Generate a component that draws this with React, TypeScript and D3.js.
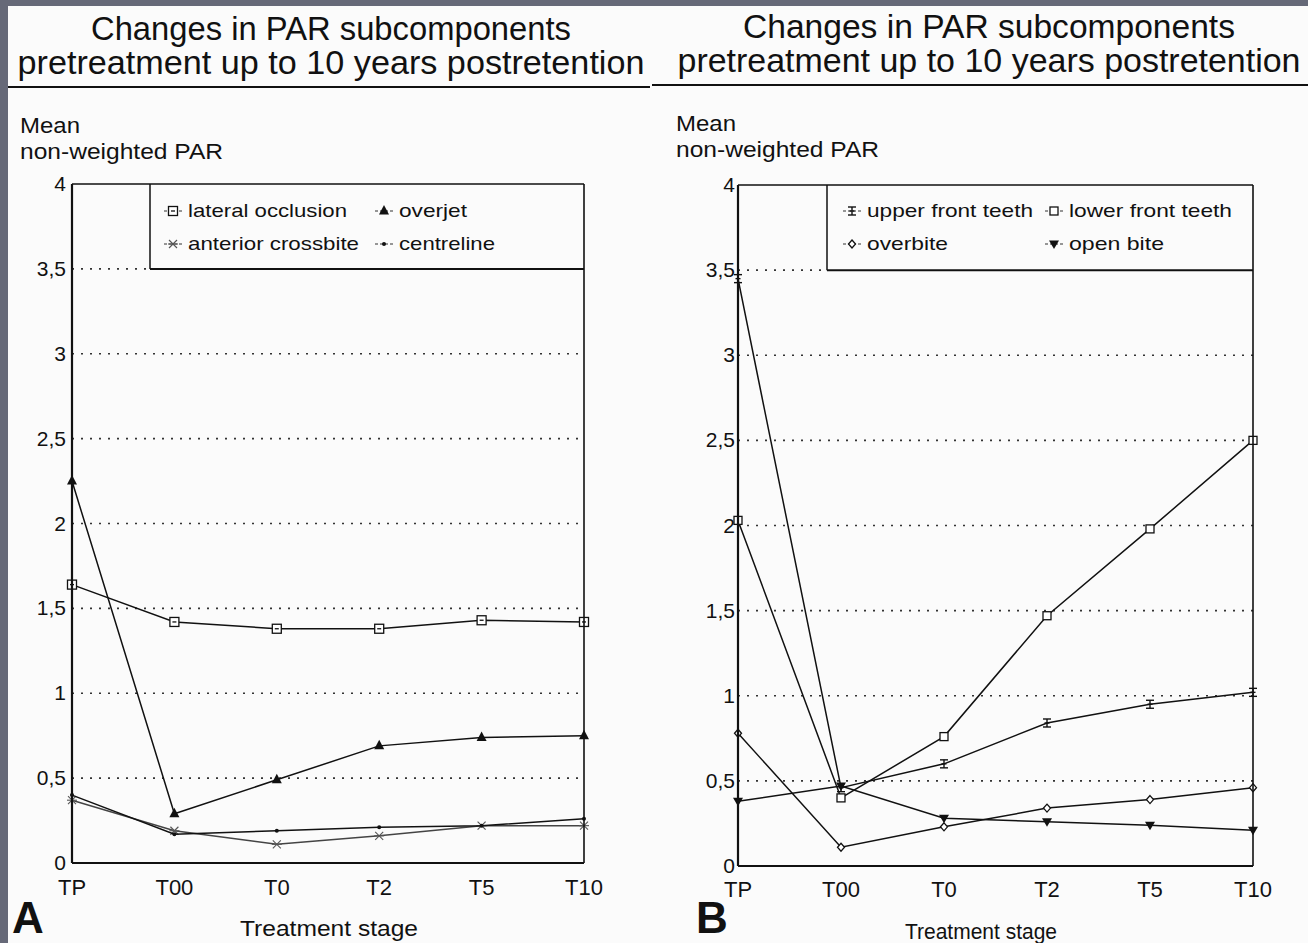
import React from 'react';
import * as d3 from 'd3';

const stages = ['TP', 'T00', 'T0', 'T2', 'T5', 'T10'];
const yTickValues = [0, 0.5, 1, 1.5, 2, 2.5, 3, 3.5, 4];
const yTickLabels = ['0', '0,5', '1', '1,5', '2', '2,5', '3', '3,5', '4'];
const gridValues = [0.5, 1, 1.5, 2, 2.5, 3, 3.5];

// Panel A
const lateralOcclusion = [1.64, 1.42, 1.38, 1.38, 1.43, 1.42];
const overjet = [2.25, 0.29, 0.49, 0.69, 0.74, 0.75];
const anteriorCrossbite = [0.37, 0.19, 0.11, 0.16, 0.22, 0.22];
const centreline = [0.40, 0.17, 0.19, 0.21, 0.22, 0.26];

// Panel B
const upperFrontTeeth = [3.45, 0.46, 0.6, 0.84, 0.95, 1.02];
const lowerFrontTeeth = [2.03, 0.40, 0.76, 1.47, 1.98, 2.5];
const overbite = [0.78, 0.11, 0.23, 0.34, 0.39, 0.46];
const openBite = [0.38, 0.47, 0.28, 0.26, 0.24, 0.21];

const titleLine1 = 'Changes in PAR subcomponents';
const titleLine2 = 'pretreatment up to 10 years postretention';
const yTitle1 = 'Mean';
const yTitle2 = 'non-weighted PAR';
const xTitle = 'Treatment stage';

type Sym = 'squareDot' | 'triUp' | 'cross' | 'dot' | 'ibeam' | 'square' | 'diamond' | 'triDown';

function Marker({ x, y, sym }: { x: number; y: number; sym: Sym }) {
  const k = '#111';
  switch (sym) {
    case 'squareDot':
      return (
        <g>
          <rect x={x - 4.5} y={y - 4.5} width={9} height={9} fill="#fff" stroke={k} strokeWidth={1.3} />
          <line x1={x - 2} x2={x + 2} y1={y} y2={y} stroke={k} strokeWidth={1.3} />
        </g>
      );
    case 'triUp':
      return <path d={`M${x},${y - 6}L${x + 5},${y + 3.5}L${x - 5},${y + 3.5}Z`} fill={k} />;
    case 'triDown':
      return <path d={`M${x - 5},${y - 3.5}L${x + 5},${y - 3.5}L${x},${y + 5}Z`} fill={k} />;
    case 'cross':
      return (
        <g stroke="#555" strokeWidth={1.1}>
          <line x1={x - 4} x2={x + 4} y1={y - 4} y2={y + 4} />
          <line x1={x - 4} x2={x + 4} y1={y + 4} y2={y - 4} />
          <line x1={x - 5} x2={x + 5} y1={y} y2={y} />
        </g>
      );
    case 'dot':
      return <circle cx={x} cy={y} r={2} fill={k} />;
    case 'ibeam':
      return (
        <g stroke={k} strokeWidth={1.4}>
          <line x1={x - 4} x2={x + 4} y1={y - 4} y2={y - 4} />
          <line x1={x - 4} x2={x + 4} y1={y + 4} y2={y + 4} />
          <line x1={x - 2.5} x2={x + 2.5} y1={y} y2={y} />
          <line x1={x} x2={x} y1={y - 4} y2={y + 4} />
        </g>
      );
    case 'square':
      return <rect x={x - 4} y={y - 4} width={8} height={8} fill="#fff" stroke={k} strokeWidth={1.3} />;
    case 'diamond':
      return <path d={`M${x},${y - 4}L${x + 3.5},${y}L${x},${y + 4}L${x - 3.5},${y}Z`} fill="#fff" stroke={k} strokeWidth={1.3} />;
  }
  return null;
}

interface Series {
  name: string;
  values: number[];
  sym: Sym;
  width: number;
  color?: string;
}

interface PanelProps {
  left: number;
  right: number;
  top: number;
  bottom: number;
  legendX: number;
  legendRowY: [number, number];
  legendCols: [number, number];
  series: Series[];
  titleX: number;
  titleY: [number, number];
  titleW: [number, number];
  ruleX: [number, number];
  ruleY: number;
  yTitleX: number;
  yTitleY: [number, number];
  tickLabelDX: number;
  xLabelY: number;
  xTitleX: number;
  xTitleY: number;
  xTitleW: number;
  letter: string;
  letterX: number;
}

function Panel(p: PanelProps) {
  const x = d3.scalePoint<string>().domain(stages).range([p.left, p.right]);
  const y = d3.scaleLinear().domain([0, 4]).range([p.bottom, p.top]);
  const line = d3
    .line<number>()
    .x((_, i) => x(stages[i]) as number)
    .y((d) => y(d));
  const legendBottom = y(3.5);
  const font = "'Liberation Sans', Arial, Helvetica, sans-serif";
  return (
    <g fontFamily={font} fill="#111">
      <text x={p.titleX} y={p.titleY[0]} fontSize={33} textAnchor="middle" textLength={p.titleW[0]} lengthAdjust="spacingAndGlyphs">{titleLine1}</text>
      <text x={p.titleX} y={p.titleY[1]} fontSize={33} textAnchor="middle" textLength={p.titleW[1]} lengthAdjust="spacingAndGlyphs">{titleLine2}</text>
      <line x1={p.ruleX[0]} x2={p.ruleX[1]} y1={p.ruleY} y2={p.ruleY} stroke="#111" strokeWidth={2} />
      <text x={p.yTitleX} y={p.yTitleY[0]} fontSize={22} textLength={60} lengthAdjust="spacingAndGlyphs">{yTitle1}</text>
      <text x={p.yTitleX} y={p.yTitleY[1]} fontSize={22} textLength={203} lengthAdjust="spacingAndGlyphs">{yTitle2}</text>

      {gridValues.map((v) => (
        <line
          key={v}
          x1={p.left}
          x2={v === 3.5 ? p.legendX : p.right}
          y1={y(v)}
          y2={y(v)}
          stroke="#333"
          strokeWidth={1.6}
          strokeDasharray="2 7"
        />
      ))}

      {/* legend box */}
      <line x1={p.legendX} x2={p.legendX} y1={p.top} y2={legendBottom} stroke="#111" strokeWidth={1.5} />
      <line x1={p.legendX} x2={p.right} y1={legendBottom} y2={legendBottom} stroke="#111" strokeWidth={2} />
      {p.series.map((s, i) => {
        const col = i % 2;
        const row = Math.floor(i / 2);
        const lx = p.legendCols[col];
        const ly = p.legendRowY[row];
        return (
          <g key={s.name}>
            <line x1={lx - 9} x2={lx + 9} y1={ly} y2={ly} stroke="#333" strokeWidth={1.2} strokeDasharray="3 2" />
            <Marker x={lx} y={ly} sym={s.sym} />
            <text x={lx + 15} y={ly + 6} fontSize={19} textLength={s.width} lengthAdjust="spacingAndGlyphs">{s.name}</text>
          </g>
        );
      })}

      {/* series */}
      {p.series.map((s) => (
        <g key={s.name}>
          <path d={line(s.values) || ''} fill="none" stroke={s.color || '#111'} strokeWidth={1.5} />
          {s.values.map((v, i) => (
            <Marker key={i} x={x(stages[i]) as number} y={y(v)} sym={s.sym} />
          ))}
        </g>
      ))}

      {/* frame */}
      <line x1={p.left} x2={p.right} y1={p.top} y2={p.top} stroke="#111" strokeWidth={1.6} />
      <line x1={p.right} x2={p.right} y1={p.top} y2={p.bottom} stroke="#111" strokeWidth={1.6} />
      <line x1={p.left} x2={p.left} y1={p.top} y2={p.bottom} stroke="#111" strokeWidth={2.2} />
      <line x1={p.left} x2={p.right} y1={p.bottom} y2={p.bottom} stroke="#111" strokeWidth={2.2} />

      {yTickValues.map((v, i) => (
        <text key={v} x={p.left + p.tickLabelDX} y={y(v) + 7} fontSize={21} textAnchor="end">
          {yTickLabels[i]}
        </text>
      ))}
      {stages.map((s) => (
        <text key={s} x={x(s) as number} y={p.xLabelY} fontSize={22} textAnchor="middle">
          {s}
        </text>
      ))}
      <text x={p.xTitleX} y={p.xTitleY} fontSize={22} textAnchor="middle" textLength={p.xTitleW} lengthAdjust="spacingAndGlyphs">{xTitle}</text>
      <text x={p.letterX} y={933} fontSize={44} fontWeight="bold">{p.letter}</text>
    </g>
  );
}

export default function App() {
  const seriesA: Series[] = [
    { name: 'lateral occlusion', values: lateralOcclusion, sym: 'squareDot', width: 159 },
    { name: 'overjet', values: overjet, sym: 'triUp', width: 68 },
    { name: 'anterior crossbite', values: anteriorCrossbite, sym: 'cross', width: 171, color: '#444' },
    { name: 'centreline', values: centreline, sym: 'dot', width: 96 },
  ];
  const seriesB: Series[] = [
    { name: 'upper front teeth', values: upperFrontTeeth, sym: 'ibeam', width: 166 },
    { name: 'lower front teeth', values: lowerFrontTeeth, sym: 'square', width: 163 },
    { name: 'overbite', values: overbite, sym: 'diamond', width: 81 },
    { name: 'open bite', values: openBite, sym: 'triDown', width: 95 },
  ];
  return (
    <svg
      width={1308}
      height={943}
      style={{ position: 'absolute', left: 0, top: 0, display: 'block' }}
    >
      <rect x={0} y={0} width={1308} height={943} fill="#666978" />
      <rect x={8} y={6} width={1300} height={937} fill="#fbfbfb" />
      <Panel
        left={72}
        right={584}
        top={184}
        bottom={863}
        legendX={150}
        legendRowY={[211, 244]}
        legendCols={[173, 384]}
        series={seriesA}
        titleX={331}
        titleY={[40, 74]}
        titleW={[480, 627]}
        ruleX={[8, 650]}
        ruleY={87}
        yTitleX={20}
        yTitleY={[133, 159]}
        tickLabelDX={-6}
        xLabelY={895}
        xTitleX={329}
        xTitleY={936}
        xTitleW={178}
        letter="A"
        letterX={12}
      />
      <Panel
        left={738}
        right={1253}
        top={185}
        bottom={866}
        legendX={827}
        legendRowY={[211, 244]}
        legendCols={[852, 1054]}
        series={seriesB}
        titleX={989}
        titleY={[38, 72]}
        titleW={[492, 623]}
        ruleX={[652, 1308]}
        ruleY={85}
        yTitleX={676}
        yTitleY={[131, 157]}
        tickLabelDX={-3}
        xLabelY={897}
        xTitleX={981}
        xTitleY={939}
        xTitleW={152}
        letter="B"
        letterX={696}
      />
    </svg>
  );
}
